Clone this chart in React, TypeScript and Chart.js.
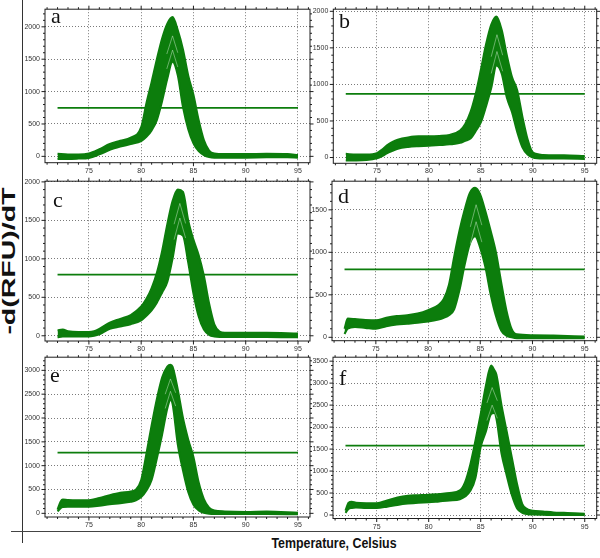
import React, { useEffect, useRef } from "react";
import { Chart, registerables } from "chart.js";

Chart.register(...registerables);

// ---------- data ----------
const A_TEMPS = [72, 73, 74, 75, 76, 77, 78, 79, 80, 80.5, 81, 81.5, 82, 82.5, 83, 83.5, 84, 84.5, 85, 85.5, 86, 86.5, 87, 88, 90, 92, 94, 95];
const A_UPPER = [40, 30, 30, 45, 110, 190, 240, 290, 450, 820, 1150, 1500, 1820, 2050, 2150, 1950, 1650, 1250, 950, 560, 250, 90, 45, 35, 35, 40, 35, 20];
const A_LOWER = [-40, -40, -35, -25, 30, 100, 150, 190, 235, 300, 400, 560, 850, 1200, 1460, 1250, 760, 420, 200, 80, 20, -10, -20, -20, -20, -15, -15, -20];
const A_THRESHOLD = 750;
const A_STREAK_T = [82.45, 83, 83.5];
const A_STREAK_1 = [1350, 1640, 1380];
const A_STREAK_2 = [1580, 1860, 1600];

const B_TEMPS = [72, 73, 74, 75, 75.5, 76, 76.5, 77, 78, 79, 80, 81, 82, 83, 83.5, 84, 84.5, 85, 85.5, 86, 86.5, 87, 87.5, 88, 88.5, 89, 89.5, 90, 91, 93, 95];
const B_UPPER = [50, 40, 40, 60, 110, 170, 215, 245, 275, 290, 290, 295, 310, 370, 460, 620, 870, 1200, 1550, 1820, 1930, 1750, 1400, 1100, 920, 560, 250, 70, 35, 30, 20];
const B_LOWER = [-40, -40, -35, -10, 20, 60, 90, 120, 145, 155, 160, 170, 180, 200, 230, 260, 360, 480, 700, 950, 1260, 1150, 820, 620, 350, 140, 40, 0, -15, -15, -20];
const B_THRESHOLD = 870;
const B_STREAK_T = [86, 86.55, 87.1];
const B_STREAK_1 = [1150, 1450, 1180];
const B_STREAK_2 = [1380, 1680, 1400];

const C_TEMPS = [72, 72.5, 73, 74, 75, 75.5, 76, 77, 78, 79, 80, 80.5, 81, 81.5, 82, 82.5, 83, 83.5, 84, 84.5, 85, 85.5, 86, 86.5, 87, 87.5, 88, 90, 92, 95];
const C_UPPER = [70, 80, 60, 50, 50, 60, 90, 170, 220, 270, 380, 480, 620, 820, 1100, 1450, 1750, 1900, 1870, 1500, 1250, 1050, 780, 420, 150, 55, 40, 40, 40, 30];
const C_LOWER = [-20, -10, -10, -10, -10, 0, 20, 90, 120, 150, 200, 260, 330, 430, 560, 700, 1000, 1330, 1300, 950, 550, 250, 80, 10, -10, -15, -15, -15, -15, -20];
const C_THRESHOLD = 795;
const C_STREAK_T = [83.15, 83.7, 84.25];
const C_STREAK_1 = [1250, 1530, 1270];
const C_STREAK_2 = [1450, 1720, 1460];

const D_TEMPS = [72, 72.3, 73, 74, 75, 76, 77, 78, 79, 80, 81, 81.5, 82, 82.5, 83, 83.5, 84, 84.5, 85, 85.5, 86, 86.5, 87, 87.5, 88, 88.5, 90, 92, 95];
const D_UPPER = [100, 220, 215, 205, 200, 230, 250, 260, 280, 320, 380, 450, 620, 950, 1250, 1500, 1700, 1760, 1680, 1480, 1250, 1000, 650, 320, 100, 35, 25, 20, 10];
const D_LOWER = [40, 100, 120, 110, 100, 130, 150, 160, 170, 185, 210, 230, 260, 330, 550, 850, 1100, 1190, 1050, 820, 500, 250, 80, 20, 0, -10, -10, -10, -10];
const D_THRESHOLD = 800;
const D_STREAK_T = [84.05, 84.6, 85.15];
const D_STREAK_1 = [1100, 1360, 1120];
const D_STREAK_2 = [1300, 1560, 1320];

const E_TEMPS = [72, 72.3, 72.5, 73, 74, 75, 76, 77, 78, 79, 79.5, 80, 80.5, 81, 81.5, 82, 82.5, 82.8, 83, 83.5, 84, 84.5, 85, 85.5, 86, 86.5, 87, 88, 90, 92, 95];
const E_UPPER = [80, 250, 290, 280, 275, 275, 320, 380, 430, 460, 500, 700, 1250, 1850, 2400, 2850, 3080, 3120, 3080, 2600, 2000, 1550, 1180, 650, 300, 120, 60, 40, 30, 40, 10];
const E_LOWER = [40, 110, 130, 140, 140, 140, 160, 190, 210, 240, 270, 340, 480, 700, 1150, 1650, 2200, 2380, 2300, 1450, 900, 450, 180, 60, 10, -10, -15, -15, -15, -15, -20];
const E_THRESHOLD = 1275;
const E_STREAK_T = [82.3, 82.8, 83.3];
const E_STREAK_1 = [2200, 2560, 2250];
const E_STREAK_2 = [2500, 2820, 2530];

const F_TEMPS = [72, 72.3, 72.6, 73, 74, 75, 76, 77, 78, 79, 80, 81, 82, 83, 83.5, 84, 84.5, 85, 85.5, 86, 86.3, 86.5, 87, 87.5, 88, 88.5, 89, 89.5, 90, 91, 92, 93, 94, 95];
const F_UPPER = [100, 280, 300, 280, 270, 270, 330, 400, 440, 450, 460, 480, 500, 560, 750, 1150, 1700, 2300, 2950, 3400, 3300, 3200, 2500, 1900, 1300, 700, 250, 130, 100, 80, 60, 50, 40, 30];
const F_LOWER = [50, 140, 160, 170, 160, 160, 190, 230, 260, 280, 290, 310, 330, 360, 420, 550, 850, 1550, 1900, 2300, 2320, 2200, 1400, 900, 450, 150, 50, 20, 10, 5, 0, 0, 0, 0];
const F_THRESHOLD = 1580;
const F_STREAK_T = [85.6, 86.1, 86.6];
const F_STREAK_1 = [2150, 2500, 2200];
const F_STREAK_2 = [2550, 2900, 2600];

const THRESHOLD_START = 72;
const THRESHOLD_END = 95;
const X_TICKS = [75, 80, 85, 90, 95];

const PANEL_LETTERS = ["a", "b", "c", "d", "e", "f"];
const Y_AXIS_TITLE = "-d(RFU)/dT";
const X_AXIS_TITLE = "Temperature, Celsius";

// ---------- styling / layout ----------
const GREEN = "#0c7d0c";
const STREAK = "rgba(225,245,225,0.55)";
const TICK_FONT = { family: "Arial, 'Liberation Sans', sans-serif", size: 7 };

type Panel = {
  letter: string;
  temps: number[];
  upper: number[];
  lower: number[];
  threshold: number;
  streakT: number[];
  streaks: number[][];
  yMin: number;
  yMax: number;
  cx: number; cy: number; cw: number; ch: number;
  pl: number; pt: number; pr: number; pb: number;
  letterX: number; letterBase: number;
};

const PANELS: Panel[] = [
  { letter: PANEL_LETTERS[0], temps: A_TEMPS, upper: A_UPPER, lower: A_LOWER, threshold: A_THRESHOLD, streakT: A_STREAK_T, streaks: [A_STREAK_1, A_STREAK_2], yMin: -98, yMax: 2272,
    cx: 23, cy: 0, cw: 291, ch: 178, pl: 45, pt: 1.5, pr: 310, pb: 162.7, letterX: 51, letterBase: 23 },
  { letter: PANEL_LETTERS[1], temps: B_TEMPS, upper: B_UPPER, lower: B_LOWER, threshold: B_THRESHOLD, streakT: B_STREAK_T, streaks: [B_STREAK_1, B_STREAK_2], yMin: -79, yMax: 2029,
    cx: 312, cy: 0, cw: 288, ch: 178, pl: 333.3, pt: 2.7, pr: 596.7, pb: 163.3, letterX: 339, letterBase: 28 },
  { letter: PANEL_LETTERS[2], temps: C_TEMPS, upper: C_UPPER, lower: C_LOWER, threshold: C_THRESHOLD, streakT: C_STREAK_T, streaks: [C_STREAK_1, C_STREAK_2], yMin: -68, yMax: 2009,
    cx: 23, cy: 172, cw: 291, ch: 186, pl: 45, pt: 180, pr: 310, pb: 341, letterX: 53, letterBase: 207 },
  { letter: PANEL_LETTERS[3], temps: D_TEMPS, upper: D_UPPER, lower: D_LOWER, threshold: D_THRESHOLD, streakT: D_STREAK_T, streaks: [D_STREAK_1, D_STREAK_2], yMin: -40, yMax: 1837,
    cx: 312, cy: 172, cw: 288, ch: 186, pl: 332, pt: 179.3, pr: 596.7, pb: 340.7, letterX: 338, letterBase: 203 },
  { letter: PANEL_LETTERS[4], temps: E_TEMPS, upper: E_UPPER, lower: E_LOWER, threshold: E_THRESHOLD, streakT: E_STREAK_T, streaks: [E_STREAK_1, E_STREAK_2], yMin: -77, yMax: 3276,
    cx: 23, cy: 348, cw: 291, ch: 182, pl: 45, pt: 355, pr: 310, pb: 517, letterX: 50, letterBase: 382 },
  { letter: PANEL_LETTERS[5], temps: F_TEMPS, upper: F_UPPER, lower: F_LOWER, threshold: F_THRESHOLD, streakT: F_STREAK_T, streaks: [F_STREAK_1, F_STREAK_2], yMin: -79, yMax: 3590,
    cx: 312, cy: 348, cw: 288, ch: 182, pl: 333, pt: 355, pr: 596.7, pb: 518.5, letterX: 339, letterBase: 385 },
];

const X_MIN = 70.8;
const X_MAX = 96.15;

const frameTicksPlugin = {
  id: "frameTicks",
  afterDraw(chart: any) {
    const { ctx, chartArea: a, scales } = chart;
    const x = scales.x;
    const y = scales.y;
    ctx.save();
    ctx.strokeStyle = "#1e1e1e";
    ctx.lineWidth = 1;
    ctx.strokeRect(a.left, a.top, a.right - a.left, a.bottom - a.top);
    ctx.beginPath();
    for (let t = Math.ceil(x.min); t <= x.max; t++) {
      const px = x.getPixelForValue(t);
      const len = t % 5 === 0 ? 3.5 : 2;
      ctx.moveTo(px, a.bottom);
      ctx.lineTo(px, a.bottom + len);
      ctx.moveTo(px, a.top);
      ctx.lineTo(px, a.top - len);
    }
    for (let v = Math.ceil(y.min / 100) * 100; v <= y.max; v += 100) {
      const py = y.getPixelForValue(v);
      const len = v % 500 === 0 ? 3.5 : 2;
      ctx.moveTo(a.left, py);
      ctx.lineTo(a.left - len, py);
      ctx.moveTo(a.right, py);
      ctx.lineTo(a.right + len, py);
    }
    ctx.stroke();
    ctx.restore();
  },
};

function PanelChart({ p }: { p: Panel }) {
  const ref = useRef<HTMLCanvasElement | null>(null);
  useEffect(() => {
    if (!ref.current) return;
    const upper = p.temps.map((t, i) => ({ x: t, y: p.upper[i] }));
    const lower = p.temps.map((t, i) => ({ x: t, y: p.lower[i] }));
    const thr = [
      { x: THRESHOLD_START, y: p.threshold },
      { x: THRESHOLD_END, y: p.threshold },
    ];
    const streakSets = p.streaks.map((s) => ({
      data: p.streakT.map((t, i) => ({ x: t, y: s[i] })),
      borderColor: STREAK,
      borderWidth: 0.8,
      fill: false,
      pointRadius: 0,
      tension: 0,
    }));
    const yw = p.pl - p.cx;
    const xh = p.cy + p.ch - p.pb;
    const chart = new Chart(ref.current, {
      type: "line",
      data: {
        datasets: [
          ...streakSets,
          { data: lower, borderColor: GREEN, borderWidth: 2, fill: false, pointRadius: 0, cubicInterpolationMode: "monotone" } as any,
          { data: upper, borderColor: GREEN, borderWidth: 2, fill: "-1", backgroundColor: GREEN, pointRadius: 0, cubicInterpolationMode: "monotone" } as any,
          { data: thr, borderColor: GREEN, borderWidth: 1.8, fill: false, pointRadius: 0 } as any,
        ] as any,
      },
      options: {
        animation: false,
        responsive: false,
        maintainAspectRatio: false,
        events: [],
        layout: { padding: { top: p.pt - p.cy, right: p.cx + p.cw - p.pr, left: 0, bottom: 0 } },
        plugins: { legend: { display: false }, tooltip: { enabled: false } },
        scales: {
          x: {
            type: "linear",
            min: X_MIN,
            max: X_MAX,
            afterFit: (s: any) => { s.height = xh; },
            afterBuildTicks: (s: any) => { s.ticks = X_TICKS.map((v) => ({ value: v })); },
            ticks: { font: TICK_FONT, color: "#333", padding: 4, maxRotation: 0, autoSkip: false, callback: (v: any) => String(v) },
            grid: { color: "#7a7a7a", drawTicks: false, lineWidth: 1 },
            border: { display: false, dash: [1, 2] },
          },
          y: {
            type: "linear",
            min: p.yMin,
            max: p.yMax,
            afterFit: (s: any) => { s.width = yw; },
            afterBuildTicks: (s: any) => {
              const out: any[] = [];
              for (let v = 0; v <= s.max; v += 500) out.push({ value: v });
              s.ticks = out;
            },
            ticks: { font: TICK_FONT, color: "#333", padding: 5, callback: (v: any) => String(v) },
            grid: { color: "#7a7a7a", drawTicks: false, lineWidth: 1 },
            border: { display: false, dash: [1, 2] },
          },
        },
      } as any,
      plugins: [frameTicksPlugin],
    });
    return () => chart.destroy();
  }, [p]);
  return (
    <canvas
      ref={ref}
      width={p.cw}
      height={p.ch}
      style={{ position: "absolute", left: p.cx, top: p.cy, width: p.cw, height: p.ch }}
    />
  );
}

export default function App() {
  return (
    <div
      style={{
        position: "absolute",
        left: 0,
        top: 0,
        width: 600,
        height: 558,
        background: "#fff",
        overflow: "hidden",
      }}
    >
      {PANELS.map((p) => (
        <PanelChart key={p.letter} p={p} />
      ))}
      {PANELS.map((p) => (
        <div
          key={"L" + p.letter}
          style={{
            position: "absolute",
            left: p.letterX,
            top: p.letterBase - 18.4,
            fontFamily: "'Liberation Serif', 'DejaVu Serif', serif",
            fontSize: 22,
            lineHeight: "22px",
            color: "#111",
          }}
        >
          {p.letter}
        </div>
      ))}
      {/* outer axis lines */}
      <div style={{ position: "absolute", left: 22, top: 0, width: 1, height: 543, background: "#333" }} />
      <div style={{ position: "absolute", left: 11, top: 531, width: 470, height: 1, background: "#444" }} />
      {/* y title */}
      <div
        style={{
          position: "absolute",
          left: 9 - 100,
          top: 261 - 11,
          width: 200,
          height: 22,
          lineHeight: "22px",
          textAlign: "center",
          transform: "rotate(-90deg) scaleX(1.5)",
          fontFamily: "Arial, 'Liberation Sans', sans-serif",
          fontWeight: "bold",
          fontSize: 19,
          color: "#111",
          whiteSpace: "nowrap",
        }}
      >
        {Y_AXIS_TITLE}
      </div>
      {/* x title */}
      <div
        style={{
          position: "absolute",
          left: 334 - 120,
          top: 533,
          width: 240,
          height: 20,
          lineHeight: "20px",
          textAlign: "center",
          transform: "scaleX(0.8)",
          fontFamily: "Arial, 'Liberation Sans', sans-serif",
          fontWeight: "bold",
          fontSize: 15.5,
          color: "#111",
          whiteSpace: "nowrap",
        }}
      >
        {X_AXIS_TITLE}
      </div>
    </div>
  );
}
